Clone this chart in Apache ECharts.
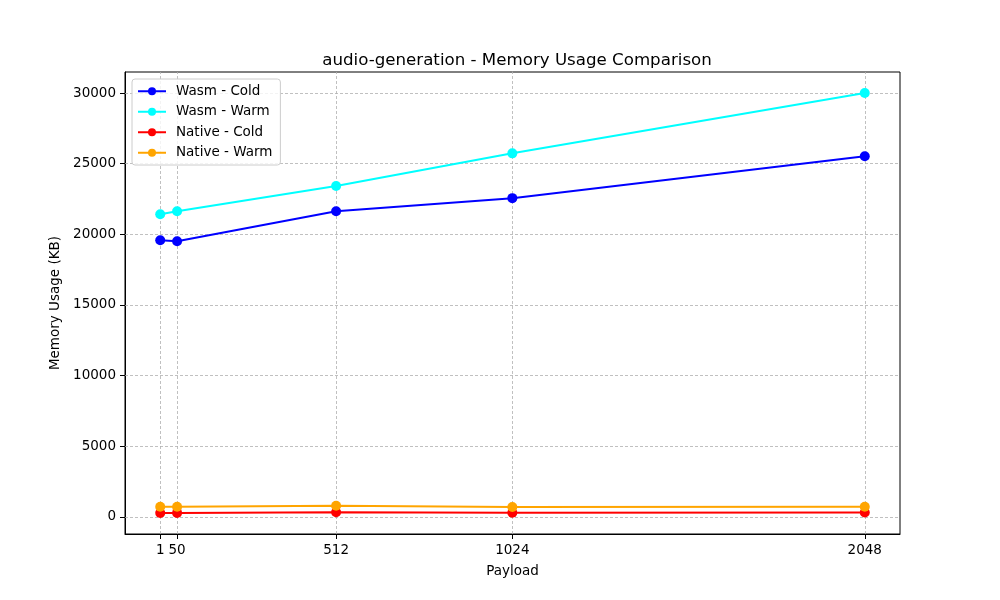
<!DOCTYPE html>
<html>
<head>
<meta charset="utf-8">
<script src="https://cdn.jsdelivr.net/npm/echarts@6/dist/echarts.min.js"></script>
<style>
  html, body { margin: 0; padding: 0; background: #fff; }
  #chart { width: 1000px; height: 600px; }
</style>
</head>
<body>
<div id="chart"></div>
<script>
// payload sizes (x positions) and tick labels
const payloads = [1, 50, 512, 1024, 2048]
const yTicks = [0, 5000, 10000, 15000, 20000, 25000, 30000]

// memory usage (KB)
const wasmCold = [19580, 19510, 21630, 22560, 25520]
const wasmWarm = [21420, 21630, 23420, 25730, 30000]
const nativeCold = [283, 290, 330, 300, 320]
const nativeWarm = [720, 730, 800, 710, 730]

const FONT = 'DejaVu Sans'
const FS = 13.5

function pairs(vals) { return payloads.map((x, i) => [x, vals[i]]) }

function lineSeries(name, color, vals) {
  return {
    name, type: 'line', zlevel: 1, z: 3,
    data: pairs(vals),
    symbol: 'circle', symbolSize: 10, showSymbol: true,
    lineStyle: { color, width: 2 },
    itemStyle: { color },
    emphasis: { disabled: true }
  }
}

const chart = echarts.init(document.getElementById('chart'), null, { renderer: 'canvas' })

chart.setOption({
  animation: false,
  backgroundColor: '#fff',
  textStyle: { fontFamily: FONT },
  title: {
    text: 'audio-generation - Memory Usage Comparison',
    left: 512, top: 47, textAlign: 'center',
    textStyle: { fontFamily: FONT, fontSize: 16.67, fontWeight: 'normal', color: '#000' }
  },
  grid: {
    left: 125, right: 100, top: 72, bottom: 66,
    show: true, borderColor: '#000', borderWidth: 1
  },
  legend: {
    data: ['Wasm - Cold', 'Wasm - Warm', 'Native - Cold', 'Native - Warm'],
    orient: 'vertical', left: 132, top: 79, zlevel: 2,
    itemWidth: 28, itemHeight: 10, itemGap: 4,
    padding: [4, 8, 4, 5],
    backgroundColor: 'rgba(255,255,255,0.8)',
    borderColor: '#cccccc', borderWidth: 1, borderRadius: 3,
    textStyle: { fontFamily: FONT, fontSize: FS, color: '#000', lineHeight: 16.5, padding: [0, 0, 0, 5] }
  },
  xAxis: {
    type: 'value', min: -101.35, max: 2150.35,
    name: 'Payload', nameLocation: 'middle', nameGap: 30,
    nameTextStyle: { fontFamily: FONT, fontSize: FS, color: '#000' },
    axisLine: { show: true, onZero: false, lineStyle: { color: '#000' } },
    axisTick: { show: true, length: 5, customValues: payloads, lineStyle: { color: '#000' } },
    axisLabel: { customValues: payloads, formatter: (v) => String(v), fontFamily: FONT, fontSize: FS, color: '#000', margin: 9 },
    splitLine: { show: false }
  },
  yAxis: {
    type: 'value', min: -1203, max: 31486,
    name: 'Memory Usage (KB)', nameLocation: 'middle', nameGap: 57,
    nameTextStyle: { fontFamily: FONT, fontSize: FS, color: '#000' },
    axisLine: { show: true, onZero: false, lineStyle: { color: '#000' } },
    axisTick: { show: true, length: 5, customValues: yTicks, lineStyle: { color: '#000' } },
    axisLabel: { customValues: yTicks, formatter: (v) => String(v), fontFamily: FONT, fontSize: FS, color: '#000', margin: 9 },
    splitLine: { show: false }
  },
  series: [
    {
      name: 'grid', type: 'line', data: [], z: 1, silent: true,
      markLine: {
        silent: true, symbol: 'none', label: { show: false },
        lineStyle: { color: '#b0b0b0', type: [3, 2], width: 0.8 },
        emphasis: { disabled: true },
        data: payloads.map((v) => ({ xAxis: v })).concat(yTicks.map((v) => ({ yAxis: v })))
      }
    },
    lineSeries('Wasm - Cold', '#0000ff', wasmCold),
    lineSeries('Wasm - Warm', '#00ffff', wasmWarm),
    lineSeries('Native - Cold', '#ff0000', nativeCold),
    lineSeries('Native - Warm', '#ffa500', nativeWarm)
  ]
})
</script>
</body>
</html>
